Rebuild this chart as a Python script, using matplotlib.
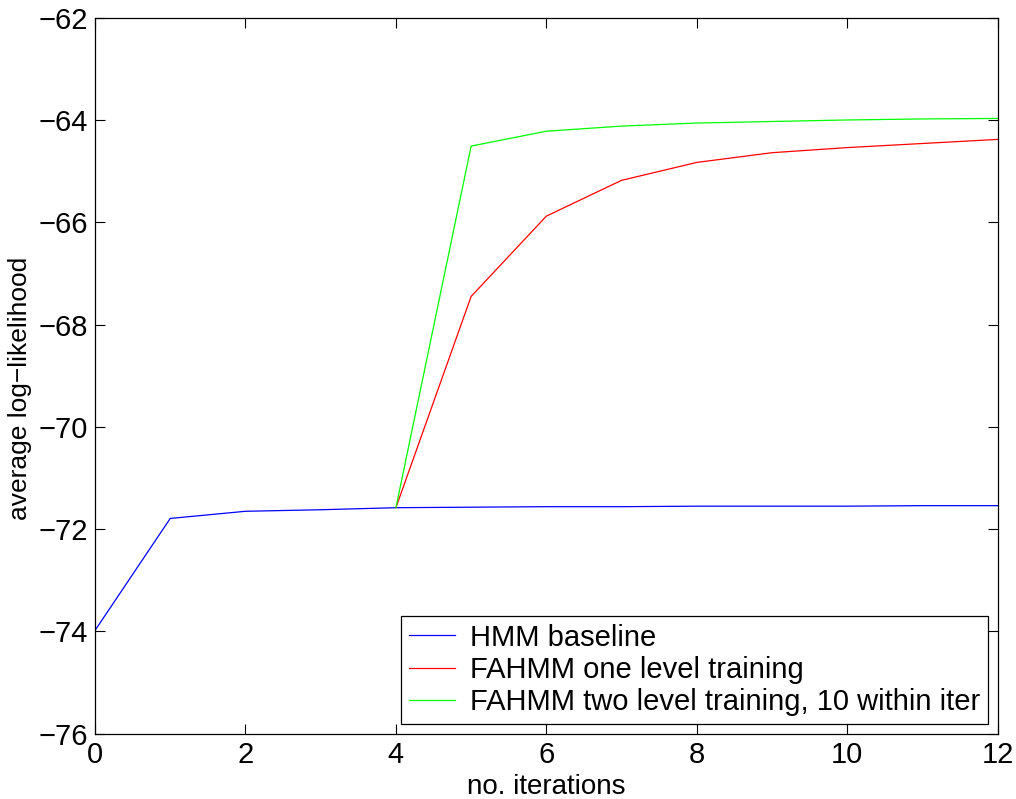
import matplotlib
matplotlib.use("Agg")
import matplotlib.pyplot as plt

plt.rcParams["font.family"] = ["Liberation Sans", "DejaVu Sans"]

# average log-likelihood per training iteration
iters_hmm = [0, 1, 2, 3, 4, 5, 6, 7, 8, 9, 10, 11, 12]
hmm = [-73.98, -71.79, -71.65, -71.62, -71.58, -71.57, -71.56, -71.56,
       -71.55, -71.55, -71.55, -71.54, -71.54]

iters_fahmm = [4, 5, 6, 7, 8, 9, 10, 11, 12]
fahmm_one = [-71.58, -67.45, -65.88, -65.18, -64.83, -64.64, -64.54,
             -64.46, -64.38]
fahmm_two = [-71.58, -64.51, -64.22, -64.12, -64.06, -64.03, -64.00,
             -63.98, -63.97]

labels = ["HMM baseline", "FAHMM one level training",
          "FAHMM two level training, 10 within iter"]

fig = plt.figure(figsize=(10.16, 7.99), dpi=100)
ax = fig.add_axes([0.0935, 0.0816, 0.8885, 0.8963])

ax.plot(iters_hmm, hmm, color="#0000ff", lw=0.9, label=labels[0])
ax.plot(iters_fahmm, fahmm_one, color="#ff0000", lw=0.9, label=labels[1])
ax.plot(iters_fahmm, fahmm_two, color="#00ff00", lw=0.9, label=labels[2])

ax.set_xlim(0, 12)
ax.set_ylim(-76, -62)
ax.set_xticks(range(0, 13, 2))
ax.set_yticks(range(-76, -61, 2))
ax.tick_params(direction="in", length=7, width=0.8, labelsize=21,
               top=True, right=True, pad=5)
for s in ax.spines.values():
    s.set_linewidth(0.9)

ax.set_xlabel("no. iterations", fontsize=20, labelpad=4)
ax.set_ylabel("average log\u2212likelihood", fontsize=19)
ax.yaxis.set_label_coords(-0.07, 0.482)

leg = ax.legend(loc="lower right", fontsize=21, fancybox=False,
                framealpha=1, edgecolor="black", borderaxespad=0.35,
                handlelength=1.6, handletextpad=0.5, labelspacing=0.15,
                borderpad=0.25)
leg.get_frame().set_linewidth(0.9)

fig.savefig("out.png", dpi=100)
